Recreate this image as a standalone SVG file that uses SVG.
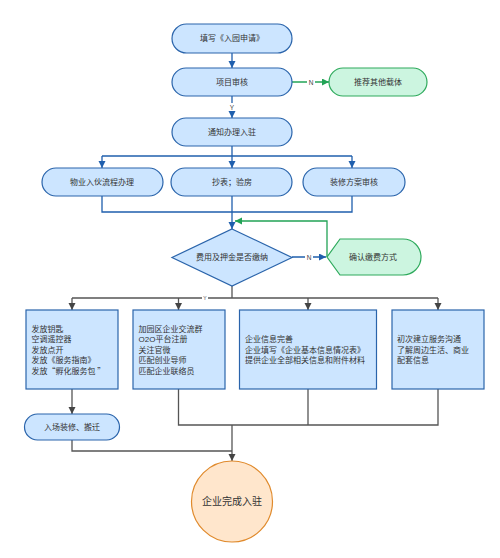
<svg xmlns="http://www.w3.org/2000/svg" width="500" height="558" viewBox="0 0 500 558">
<defs>
<style>
.blue{fill:#cce5ff;stroke:#2a64ab;stroke-width:1.2}
.green{fill:#ccf5e0;stroke:#2eaa5c;stroke-width:1.2}
.orange{fill:#ffe6cc;stroke:#e08a2c;stroke-width:1.2}
.t{font-family:"Liberation Sans","Noto Sans CJK SC",sans-serif;font-size:8px;fill:#333}
.cjk{font-family:"Noto Sans CJK SC",sans-serif}
.c{text-anchor:middle;dominant-baseline:central}
.lb{stroke:#1f5fad;stroke-width:1.3;fill:none}
.lg{stroke:#22a356;stroke-width:1.3;fill:none}
.lk{stroke:#555;stroke-width:1.3;fill:none}
.lbl{font-family:"Liberation Sans",sans-serif;font-size:6.5px;fill:#444;text-anchor:middle;dominant-baseline:central}
</style>
<marker id="ab" markerUnits="userSpaceOnUse" markerWidth="8" markerHeight="8" refX="7" refY="3.5" orient="auto"><path d="M0,0 L7,3.5 L0,7 Z" fill="#1f5fad"/></marker>
<marker id="ag" markerUnits="userSpaceOnUse" markerWidth="8" markerHeight="8" refX="7" refY="3.5" orient="auto"><path d="M0,0 L7,3.5 L0,7 Z" fill="#22a356"/></marker>
<marker id="ak" markerUnits="userSpaceOnUse" markerWidth="8" markerHeight="8" refX="7" refY="3.5" orient="auto"><path d="M0,0 L7,3.5 L0,7 Z" fill="#444"/></marker>
</defs>
<rect width="500" height="558" fill="#fff"/>
<g id="connectors">
<path class="lb" d="M232,53 V68" marker-end="url(#ab)"/>
<path class="lb" d="M232,96 V118" marker-end="url(#ab)"/>
<path class="lg" d="M292,82 H329" marker-end="url(#ag)"/>
<path class="lb" d="M232,146 V168" marker-end="url(#ab)"/>
<path class="lb" d="M102,156 H352"/>
<path class="lb" d="M102,156 V168" marker-end="url(#ab)"/>
<path class="lb" d="M352,156 V168" marker-end="url(#ab)"/>
<path class="lb" d="M102,196 V212 H352 V196"/>
<path class="lb" d="M232,196 V229" marker-end="url(#ab)"/>
<path class="lg" d="M327,257 V221 H235" marker-end="url(#ag)"/>
<path class="lb" d="M292,257 H326" marker-end="url(#ab)"/>
<path class="lk" d="M232,286 V298"/>
<path class="lk" d="M72,298 H438"/>
<path class="lk" d="M72,298 V310" marker-end="url(#ak)"/>
<path class="lk" d="M178.5,298 V310" marker-end="url(#ak)"/>
<path class="lk" d="M308,298 V310" marker-end="url(#ak)"/>
<path class="lk" d="M438,298 V310" marker-end="url(#ak)"/>
<path class="lk" d="M72,389 V414" marker-end="url(#ak)"/>
<path class="lk" d="M72,440 V451 H232"/>
<path class="lk" d="M178.5,389 V425 H438 V389"/>
<path class="lk" d="M308,389 V425"/>
<path class="lk" d="M232,425 V461" marker-end="url(#ak)"/>
<rect x="228" y="103" width="8" height="8" fill="#fff"/>
<text class="lbl" x="232" y="107">Y</text>
<rect x="307" y="78" width="8" height="8" fill="#fff"/>
<text class="lbl" x="311" y="82">N</text>
<rect x="305" y="253" width="8" height="8" fill="#fff"/>
<text class="lbl" x="309" y="257">N</text>
<rect x="202" y="295" width="6" height="6" fill="#fff"/>
<text class="lbl" x="205" y="298" style="font-size:5px">Y</text>
</g>
<g id="n1"><rect class="blue" x="172" y="24" width="120" height="29" rx="14.5"/><text class="t c" x="232" y="38.5">填写《入园申请》</text></g>
<g id="n2"><rect class="blue" x="172" y="68" width="120" height="28" rx="14"/><text class="t c" x="232" y="82">项目审核</text></g>
<g id="n3"><rect class="green" x="329" y="68" width="98" height="28" rx="14"/><text class="t c" x="378" y="82">推荐其他载体</text></g>
<g id="n4"><rect class="blue" x="172" y="118" width="120" height="28" rx="14"/><text class="t c" x="232" y="132">通知办理入驻</text></g>
<g id="n5"><rect class="blue" x="42" y="168" width="121" height="28" rx="14"/><text class="t c" x="102" y="182">物业入伙流程办理</text></g>
<g id="n6"><rect class="blue" x="171" y="168" width="121" height="28" rx="14"/><text class="t c" x="232" y="182">抄表；验房</text></g>
<g id="n7"><rect class="blue" x="303" y="168" width="102" height="28" rx="14"/><text class="t c" x="354" y="182">装修方案审核</text></g>
<g id="n8"><path class="blue" d="M232,229 L292,257.5 L232,286 L172,257.5 Z"/><text class="t c" x="232" y="257.5">费用及押金是否缴纳</text></g>
<g id="n9"><path class="green" d="M327,257 L340,239 H403 A18,18 0 0 1 403,275 H340 Z"/><text class="t c" x="373" y="257">确认缴费方式</text></g>
<g id="n10"><rect class="blue" x="26" y="310" width="92" height="79"/>
<text class="t" x="31.5" y="332">发放钥匙</text>
<text class="t" x="31.5" y="342.4">空调遥控器</text>
<text class="t" x="31.5" y="352.8">发放点开</text>
<text class="t" x="31.5" y="363.2">发放《服务指南》</text>
<text class="t cjk" x="31.5" y="373.6">发放“孵化服务包 ”</text></g>
<g id="n11"><rect class="blue" x="133" y="310" width="92" height="79"/>
<text class="t" x="138.5" y="332">加园区企业交流群</text>
<text class="t" x="138.5" y="342.4">O2O平台注册</text>
<text class="t" x="138.5" y="352.8">关注官微</text>
<text class="t" x="138.5" y="363.2">匹配创业导师</text>
<text class="t" x="138.5" y="373.6">匹配企业联络员</text></g>
<g id="n12"><rect class="blue" x="239.5" y="310" width="137" height="79"/>
<text class="t" x="245" y="342.2">企业信息完善</text>
<text class="t" x="245" y="352.6">企业填写《企业基本信息情况表》</text>
<text class="t" x="245" y="363">提供企业全部相关信息和附件材料</text></g>
<g id="n13"><rect class="blue" x="392" y="310" width="92" height="79"/>
<text class="t" x="397" y="342.2">初次建立服务沟通</text>
<text class="t" x="397" y="352.6">了解周边生活、商业</text>
<text class="t" x="397" y="363">配套信息</text></g>
<g id="n14"><rect class="blue" x="24.5" y="414" width="95" height="26" rx="13"/><text class="t c" x="72" y="427">入场装修、搬迁</text></g>
<g id="n15"><circle class="orange" cx="232" cy="501.5" r="40.5"/><text class="t c" x="232" y="501.5" style="font-size:10px">企业完成入驻</text></g>
</svg>
